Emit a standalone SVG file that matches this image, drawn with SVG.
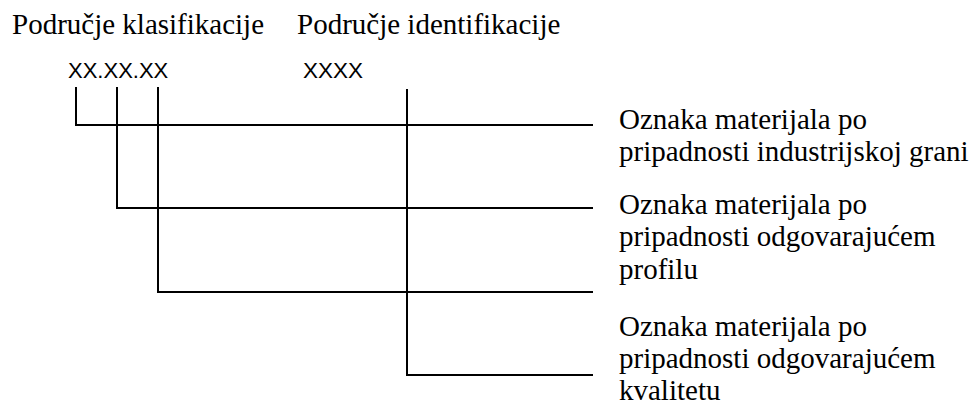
<svg xmlns="http://www.w3.org/2000/svg" width="972" height="406" viewBox="0 0 972 406">
<style>
.serif{font-family:"Liberation Serif","Times New Roman",serif;font-size:29px;fill:#000}
.sans{font-family:"Liberation Sans",Arial,sans-serif;font-size:22px;fill:#000}
.ln{stroke:#000;stroke-width:2;fill:none}
</style>
<rect width="972" height="406" fill="#fff"/>
<g id="headers">
<text class="serif" x="12" y="34">Područje klasifikacije</text>
<text class="serif" x="297" y="34">Područje identifikacije</text>
</g>
<g id="codes">
<text class="sans" x="68" y="78">XX.XX.XX</text>
<text class="sans" x="303" y="78" style="font-size:22.5px">XXXX</text>
</g>
<g id="connectors">
<polyline class="ln" points="76,87 76,125 593,125"/>
<polyline class="ln" points="117,87 117,208 593,208"/>
<polyline class="ln" points="158,87 158,292 593,292"/>
<polyline class="ln" points="407,89 407,375 593,375"/>
</g>
<g id="label1">
<text class="serif" x="619" y="129">Oznaka materijala po</text>
<text class="serif" x="619" y="161">pripadnosti industrijskoj grani</text>
</g>
<g id="label2">
<text class="serif" x="619" y="214">Oznaka materijala po</text>
<text class="serif" x="619" y="246">pripadnosti odgovarajućem</text>
<text class="serif" x="619" y="279">profilu</text>
</g>
<g id="label3">
<text class="serif" x="619" y="336">Oznaka materijala po</text>
<text class="serif" x="619" y="368">pripadnosti odgovarajućem</text>
<text class="serif" x="619" y="400">kvalitetu</text>
</g>
</svg>
